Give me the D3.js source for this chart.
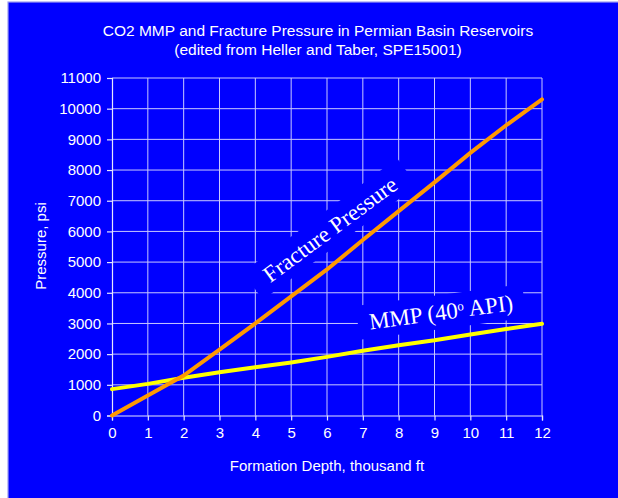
<!DOCTYPE html>
<html><head><meta charset="utf-8">
<script src="https://cdn.jsdelivr.net/npm/d3@7"></script>
<style>html,body{margin:0;padding:0;background:#fff;}svg{display:block;}</style>
</head><body>
<svg id="c" width="618" height="498"></svg>
<script>
const depth = [0,1,2,3,4,5,6,7,8,9,10,11,12];
const fracturePressure = [0,650,1300,2150,3000,3880,4760,5720,6660,7600,8560,9460,10300];
const mmp = [860,1030,1230,1410,1570,1730,1910,2110,2290,2450,2640,2820,2990];
const xTicks = [0,1,2,3,4,5,6,7,8,9,10,11,12];
const yTicks = [0,1000,2000,3000,4000,5000,6000,7000,8000,9000,10000,11000];
const titleLines = ["CO2 MMP and Fracture Pressure in Permian Basin Reservoirs","(edited from Heller and Taber, SPE15001)"];

const svg = d3.select("#c");
const BLUE = "#0000ff", GRID = "#c8c8ff";
svg.append("rect").attr("x",8).attr("y",2).attr("width",618).attr("height",500)
  .attr("fill",BLUE).attr("stroke","#9c9cf0").attr("stroke-width",1.2);

const x = d3.scaleLinear().domain([0,12]).range([112,542]);
const y = d3.scaleLinear().domain([0,11000]).range([415.5,78]);

// grid
const g = svg.append("g");
g.selectAll(".vg").data(xTicks.slice(1)).join("line")
  .attr("x1",d=>x(d)).attr("x2",d=>x(d)).attr("y1",y(0)).attr("y2",y(11000))
  .attr("stroke",GRID).attr("stroke-width",1);
g.selectAll(".hg").data(yTicks.slice(1)).join("line")
  .attr("y1",d=>y(d)).attr("y2",d=>y(d)).attr("x1",x(0)).attr("x2",x(12))
  .attr("stroke",GRID).attr("stroke-width",1);

// axes
const font = "'Liberation Sans', Arial, sans-serif";
const xAxis = svg.append("g").attr("transform",`translate(0,${y(0)})`)
  .call(d3.axisBottom(x).tickValues(xTicks).tickSize(5).tickPadding(7).tickFormat(d3.format("d")));
const yAxis = svg.append("g").attr("transform",`translate(${x(0)},0)`)
  .call(d3.axisLeft(y).tickValues(yTicks).tickSize(5).tickPadding(6).tickFormat(d3.format("d")));
[xAxis,yAxis].forEach(a=>{
  a.selectAll("path,line").attr("stroke","#e6e6ff").attr("stroke-width",1.2);
  a.selectAll("text").attr("fill","#fff").attr("font-family",font).attr("font-size","15px");
});

// label masks and labels
function label(cx,cy,ang,build,w,h){
  const lg = svg.append("g").attr("transform",`translate(${cx},${cy}) rotate(${ang})`);
  lg.append("rect").attr("x",-w/2).attr("y",-h/2).attr("width",w).attr("height",h).attr("fill",BLUE);
  const t = lg.append("text").attr("text-anchor","middle").attr("dy","0.35em")
    .attr("fill","#fff").attr("font-family","'Liberation Serif','Times New Roman',serif").attr("font-size","23px");
  build(t);
}
label(330,229,-36.5,t=>t.text("Fracture Pressure"),192,34);
label(441,312,-7.5,t=>{
  t.append("tspan").text("MMP (40");
  t.append("tspan").attr("font-size","13px").attr("dy","-0.55em").text("o");
  t.append("tspan").attr("dy","0.3em").text(" API)");
},168,34);

// lines
const lineF = d3.line().x((d,i)=>x(depth[i])).y(d=>y(d));
svg.append("path").datum(mmp).attr("d",lineF).attr("fill","none")
  .attr("stroke","#ffff00").attr("stroke-width",4).attr("stroke-linecap","round");
svg.append("path").datum(fracturePressure).attr("d",lineF).attr("fill","none")
  .attr("stroke","#ff9900").attr("stroke-width",4).attr("stroke-linecap","round");

// titles
svg.selectAll(".title").data(titleLines).join("text")
  .attr("x",318).attr("y",(d,i)=>36+i*18.5).attr("text-anchor","middle")
  .attr("fill","#fff").attr("font-family",font).attr("font-size","15.5px").text(d=>d);
svg.append("text").attr("x",327).attr("y",471).attr("text-anchor","middle")
  .attr("fill","#fff").attr("font-family",font).attr("font-size","15px").text("Formation Depth, thousand ft");
svg.append("text").attr("transform","translate(46,246) rotate(-90)").attr("text-anchor","middle")
  .attr("fill","#fff").attr("font-family",font).attr("font-size","15px").text("Pressure, psi");
</script>
</body></html>
